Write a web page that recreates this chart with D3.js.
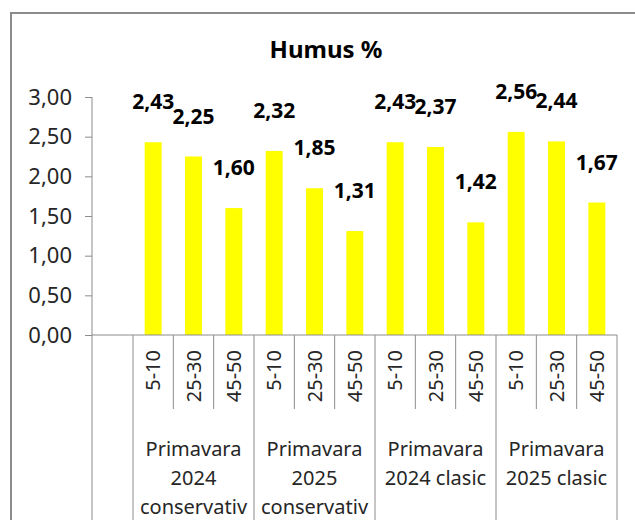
<!DOCTYPE html>
<html>
<head>
<meta charset="utf-8">
<title>Humus %</title>
<script src="https://cdn.jsdelivr.net/npm/d3@7"></script>
<style>
  body { margin: 0; background: #ffffff; }
  svg { display: block; }
</style>
</head>
<body>
<script>
// chart data
var depths = ["5-10", "25-30", "45-50"];
var groups = [
  ["Primavara", "2024", "conservativ"],
  ["Primavara", "2025", "conservativ"],
  ["Primavara", "2024 clasic"],
  ["Primavara", "2025 clasic"]
];
var humus = [2.43, 2.25, 1.60, 2.32, 1.85, 1.31, 2.43, 2.37, 1.42, 2.56, 2.44, 1.67];
var yTicks = [0, 0.5, 1, 1.5, 2, 2.5, 3];

var width = 635, height = 520;
var fontFamily = "'Noto Sans', 'Open Sans', sans-serif";
var lineColor = "#8c8c8c";
var textColor = "#262626";

// build one row per bar
var rows = [];
for (var i = 0; i < humus.length; i++)
{
  rows.push({
    key: i,
    depth: depths[i % depths.length],
    group: Math.floor(i / depths.length),
    value: humus[i]
  });
}

var svg = d3.select("body")
  .append("svg")
  .attr("width", width)
  .attr("height", height);

// chart border (runs off the picture on the right and bottom)
svg.append("rect")
  .attr("x", 11)
  .attr("y", 13)
  .attr("width", 660)
  .attr("height", 560)
  .attr("fill", "#ffffff")
  .attr("stroke", lineColor)
  .attr("stroke-width", 2);

// scales
var axisLeftX = 92;
var x = d3.scaleBand()
  .domain(rows.map(function(d) { return d.key; }))
  .range([133, 617])
  .paddingInner(0.58)
  .paddingOuter(0.29);

var y = d3.scaleLinear()
  .domain([0, 3])
  .range([335, 97]);

var fmt = function(v) { return d3.format(".2f")(v).replace(".", ","); };

// title
svg.append("text")
  .attr("x", 326)
  .attr("y", 58)
  .attr("text-anchor", "middle")
  .style("font-family", fontFamily)
  .style("font-size", "24px")
  .style("font-weight", "bold")
  .style("fill", "#000000")
  .text("Humus %");

// y axis
var yAxis = svg.append("g")
  .attr("transform", "translate(" + axisLeftX + ",0)")
  .call(d3.axisLeft(y)
    .tickValues(yTicks)
    .tickSize(7)
    .tickPadding(13)
    .tickFormat(fmt));

yAxis.select(".domain").remove();
yAxis.selectAll(".tick line").attr("stroke", lineColor);
yAxis.selectAll(".tick text")
  .style("font-family", fontFamily)
  .style("font-size", "22px")
  .style("fill", textColor);

// y axis line, running down through the label table
svg.append("line")
  .attr("x1", axisLeftX).attr("x2", axisLeftX)
  .attr("y1", y(3)).attr("y2", height)
  .attr("stroke", lineColor);

// bars
svg.selectAll(".bar")
  .data(rows)
  .enter()
  .append("rect")
  .attr("class", "bar")
  .attr("x", function(d) { return x(d.key); })
  .attr("y", function(d) { return y(d.value); })
  .attr("width", x.bandwidth())
  .attr("height", function(d) { return y(0) - y(d.value); })
  .attr("fill", "#ffff00");

// value labels
svg.selectAll(".value")
  .data(rows)
  .enter()
  .append("text")
  .attr("class", "value")
  .attr("x", function(d) { return x(d.key) + x.bandwidth() / 2; })
  .attr("y", function(d) { return y(d.value) - 33; })
  .attr("text-anchor", "middle")
  .style("font-family", fontFamily)
  .style("font-size", "21px")
  .style("font-weight", "bold")
  .style("fill", "#000000")
  .text(function(d) { return fmt(d.value); });

// x axis line
svg.append("line")
  .attr("x1", axisLeftX).attr("x2", x.range()[1])
  .attr("y1", y(0)).attr("y2", y(0))
  .attr("stroke", lineColor);

var step = x.step();
var bandStart = function(d) { return x(d.key) - x.paddingOuter() * step; };

// short separators between depths
svg.selectAll(".inner")
  .data(rows.filter(function(d) { return d.key % depths.length != 0; }))
  .enter()
  .append("line")
  .attr("class", "inner")
  .attr("x1", bandStart).attr("x2", bandStart)
  .attr("y1", y(0)).attr("y2", y(0) + 74)
  .attr("stroke", lineColor);

// long separators between groups
var groupEdges = d3.range(groups.length + 1).map(function(g) {
  return x.range()[0] + g * depths.length * step;
});
svg.selectAll(".outer")
  .data(groupEdges)
  .enter()
  .append("line")
  .attr("class", "outer")
  .attr("x1", function(d) { return d; }).attr("x2", function(d) { return d; })
  .attr("y1", y(0)).attr("y2", height)
  .attr("stroke", lineColor);

// rotated depth labels
svg.selectAll(".depth")
  .data(rows)
  .enter()
  .append("text")
  .attr("class", "depth")
  .attr("transform", function(d) {
    return "translate(" + (x(d.key) + x.bandwidth() / 2) + "," + 350 + ") rotate(-90)";
  })
  .attr("dy", "0.35em")
  .attr("text-anchor", "end")
  .style("font-family", fontFamily)
  .style("font-size", "20px")
  .style("fill", textColor)
  .text(function(d) { return d.depth; });

// group labels
var groupText = svg.selectAll(".group")
  .data(groups)
  .enter()
  .append("text")
  .attr("class", "group")
  .attr("text-anchor", "middle")
  .style("font-family", fontFamily)
  .style("font-size", "20px")
  .style("fill", textColor);

groupText.selectAll("tspan")
  .data(function(d, i) {
    return d.map(function(line) { return { line: line, g: i }; });
  })
  .enter()
  .append("tspan")
  .attr("x", function(d) { return (groupEdges[d.g] + groupEdges[d.g + 1]) / 2; })
  .attr("y", function(d, j) { return 456 + j * 29; })
  .text(function(d) { return d.line; });
</script>
</body>
</html>
